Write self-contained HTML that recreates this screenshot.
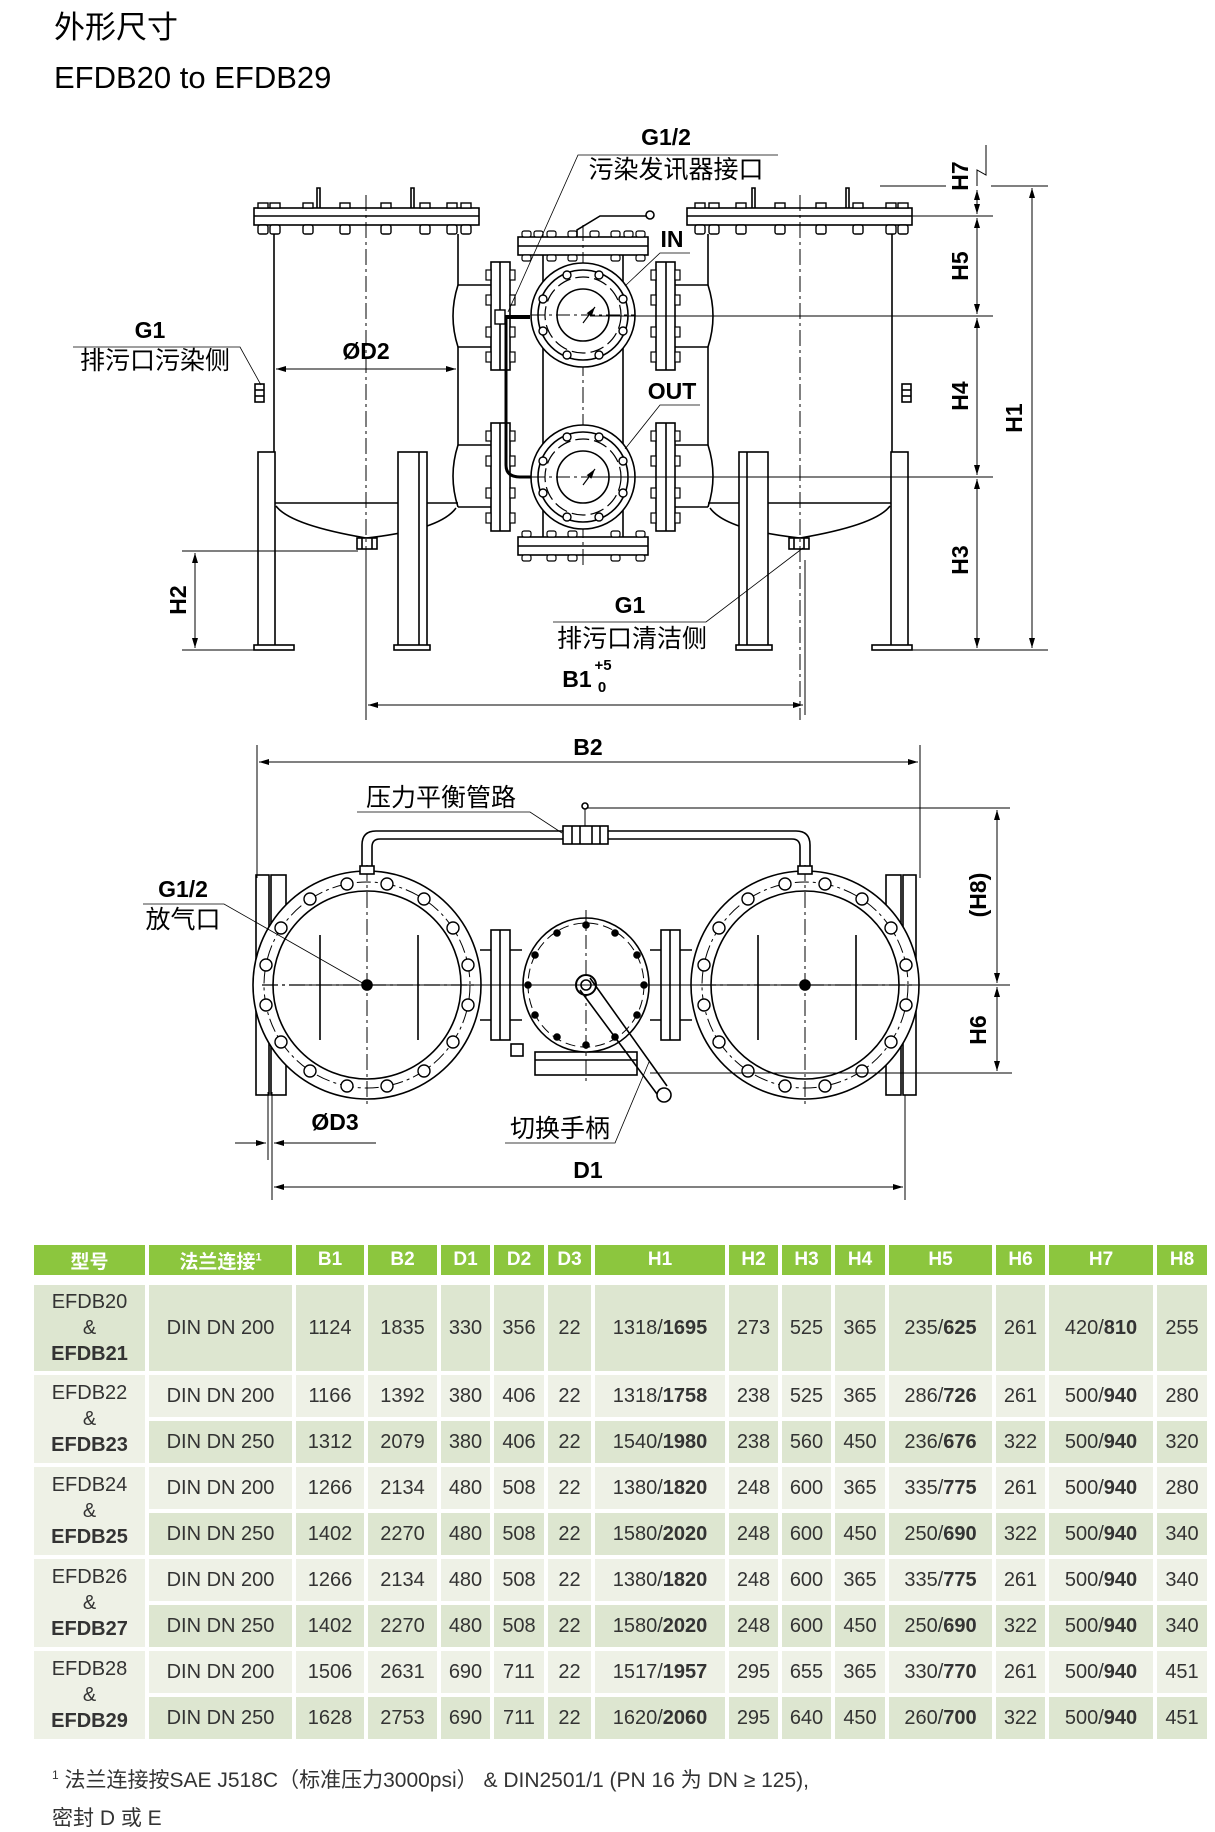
<!DOCTYPE html>
<html><head><meta charset="utf-8"><style>
html,body{margin:0;padding:0;background:#fff;}
body{width:1215px;height:1831px;position:relative;overflow:hidden;font-family:"Liberation Sans","Noto Sans CJK SC",sans-serif;}
svg{position:absolute;left:0;top:0;}
table{position:absolute;left:30px;top:1241px;border-collapse:separate;border-spacing:4px;table-layout:fixed;width:1181px;}
td{padding:0;text-align:center;font-size:20px;color:#333;height:42px;background:#eef1e6;white-space:nowrap;}
tr.h td{background:#8cc63e;color:#fff;font-weight:bold;height:30px;font-size:19px;}
tr.sp td{height:2px;background:none;}
tr.d td{background:#dde6d0;}
td.m{background:#eef1e6 !important;line-height:26px;}
tr.r1 td{height:86px;background:#dde6d0;}
b{font-weight:bold;}
.foot{position:absolute;left:52px;font-size:21px;color:#333;}
</style></head><body>
<svg width="1215" height="1240" viewBox="0 0 1215 1240" font-family="Liberation Sans, Noto Sans CJK SC, sans-serif">
<defs>
<marker id="ar" viewBox="0 0 10 6" refX="10" refY="3" markerWidth="10" markerHeight="6" orient="auto-start-reverse" markerUnits="userSpaceOnUse"><path d="M0,0 L10,3 L0,6z" fill="#000"/></marker>
<g id="tankTop" fill="none" stroke="#000" stroke-width="1.6">
 <rect x="254" y="208" width="225" height="17" fill="#fff"/>
 <line x1="254" y1="216" x2="479" y2="216"/>
 <g fill="#fff" stroke-width="1.4">
  <rect x="258" y="203" width="10" height="5"/><rect x="270" y="203" width="10" height="5"/><rect x="303" y="203" width="10" height="5"/><rect x="340" y="203" width="10" height="5"/><rect x="381" y="203" width="10" height="5"/><rect x="420" y="203" width="10" height="5"/><rect x="447" y="203" width="10" height="5"/><rect x="461" y="203" width="10" height="5"/>
  <rect x="258" y="225" width="10" height="9" rx="2"/><rect x="270" y="225" width="10" height="9" rx="2"/><rect x="303" y="225" width="10" height="9" rx="2"/><rect x="340" y="225" width="10" height="9" rx="2"/><rect x="381" y="225" width="10" height="9" rx="2"/><rect x="420" y="225" width="10" height="9" rx="2"/><rect x="447" y="225" width="10" height="9" rx="2"/><rect x="461" y="225" width="10" height="9" rx="2"/>
 </g>
 <path d="M317,208 V188 h3 V208 M411,208 V188 h3 V208"/>
 <line x1="274" y1="234" x2="274" y2="505"/>
 <line x1="458" y1="234" x2="458" y2="285"/>
 <path d="M458,285 Q448,316 458,347"/>
 <line x1="458" y1="347" x2="458" y2="445"/>
 <path d="M458,445 Q448,476 458,507"/>
 <line x1="274" y1="503" x2="458" y2="503"/>
 <path d="M276,506 Q290,525 366,538 Q440,530 456,508"/>
 <rect x="357" y="538" width="20" height="11" fill="#fff"/>
 <line x1="362" y1="538" x2="362" y2="549"/><line x1="372" y1="538" x2="372" y2="549"/>
 <rect x="258" y="452" width="17" height="194" fill="#fff"/>
 <rect x="254" y="645" width="40" height="5" fill="#fff"/>
 <rect x="398" y="452" width="29" height="194" fill="#fff"/>
 <line x1="419" y1="452" x2="419" y2="646"/>
 <rect x="394" y="645" width="36" height="5" fill="#fff"/>
 <line x1="366" y1="195" x2="366" y2="720" stroke-width="1" stroke-dasharray="16,4,3,4"/>
 <rect x="255" y="384" width="9" height="18" fill="#fff"/>
 <line x1="255" y1="390" x2="264" y2="390"/><line x1="255" y1="396" x2="264" y2="396"/>
 <line x1="458" y1="285" x2="491" y2="285"/><line x1="458" y1="347" x2="491" y2="347"/>
 <line x1="458" y1="445" x2="491" y2="445"/><line x1="458" y1="507" x2="491" y2="507"/>
 <rect x="491" y="262" width="19" height="108" fill="#fff"/><line x1="500" y1="262" x2="500" y2="370"/>
 <rect x="491" y="423" width="19" height="108" fill="#fff"/><line x1="500" y1="423" x2="500" y2="531"/>
 <g fill="#fff" stroke-width="1.2">
  <rect x="486" y="270" width="5" height="10"/><rect x="486" y="295" width="5" height="10"/><rect x="486" y="327" width="5" height="10"/><rect x="486" y="352" width="5" height="10"/>
  <rect x="510" y="270" width="5" height="10"/><rect x="510" y="295" width="5" height="10"/><rect x="510" y="327" width="5" height="10"/><rect x="510" y="352" width="5" height="10"/>
  <rect x="486" y="431" width="5" height="10"/><rect x="486" y="456" width="5" height="10"/><rect x="486" y="488" width="5" height="10"/><rect x="486" y="513" width="5" height="10"/>
  <rect x="510" y="431" width="5" height="10"/><rect x="510" y="456" width="5" height="10"/><rect x="510" y="488" width="5" height="10"/><rect x="510" y="513" width="5" height="10"/>
 </g>
</g>
<g id="port" fill="none" stroke="#000" stroke-width="1.6">
 <circle cx="0" cy="0" r="52" fill="#fff"/>
 <circle cx="0" cy="0" r="45"/>
 <circle cx="0" cy="0" r="38" stroke-dasharray="14,5" stroke-width="1.2"/>
 <circle cx="0" cy="0" r="26"/>
 <g fill="#fff" stroke-width="1.4"><circle cx="16" cy="-40" r="4"/><circle cx="-16" cy="-40" r="4"/><circle cx="40" cy="-16" r="4"/><circle cx="-40" cy="-16" r="4"/><circle cx="40" cy="16" r="4"/><circle cx="-40" cy="16" r="4"/><circle cx="16" cy="40" r="4"/><circle cx="-16" cy="40" r="4"/></g>
 <line x1="-52" y1="0" x2="52" y2="0" stroke-width="1" stroke-dasharray="14,4,3,4"/>
 <line x1="0" y1="8" x2="12" y2="-8" marker-end="url(#ar)" stroke-width="1.2"/>
</g>
<g id="bigC" fill="none" stroke="#000" stroke-width="1.6">
 <circle cx="0" cy="0" r="114" fill="#fff"/>
 <circle cx="0" cy="0" r="103" stroke-dasharray="14,4,3,4" stroke-width="1"/>
 <circle cx="0" cy="0" r="94"/>
 <g fill="#fff" stroke-width="1.4">
  <circle cx="101" cy="20" r="6"/><circle cx="86" cy="57" r="6"/><circle cx="57" cy="86" r="6"/><circle cx="20" cy="101" r="6"/>
  <circle cx="-101" cy="20" r="6"/><circle cx="-86" cy="57" r="6"/><circle cx="-57" cy="86" r="6"/><circle cx="-20" cy="101" r="6"/>
  <circle cx="101" cy="-20" r="6"/><circle cx="86" cy="-57" r="6"/><circle cx="57" cy="-86" r="6"/><circle cx="20" cy="-101" r="6"/>
  <circle cx="-101" cy="-20" r="6"/><circle cx="-86" cy="-57" r="6"/><circle cx="-57" cy="-86" r="6"/><circle cx="-20" cy="-101" r="6"/>
 </g>
 <line x1="-47" y1="-50" x2="-47" y2="55"/><line x1="51" y1="-50" x2="51" y2="55"/>
 <line x1="-105" y1="0" x2="110" y2="0" stroke-width="1.2" stroke-dasharray="16,4,3,4"/>
 <line x1="0" y1="-120" x2="0" y2="120" stroke-width="1" stroke-dasharray="16,4,3,4"/>
 <circle cx="0" cy="0" r="5" fill="#000"/>
</g>
</defs>

<text x="54" y="38" font-size="31">外形尺寸</text>
<text x="54" y="88" font-size="31">EFDB20 to EFDB29</text>

<use href="#tankTop"/>
<use href="#tankTop" transform="translate(1166,0) scale(-1,1)"/>
<g fill="none" stroke="#000" stroke-width="1.6">
 <line x1="543" y1="255" x2="543" y2="537"/><line x1="623" y1="255" x2="623" y2="537"/>
 <rect x="518" y="237" width="130" height="18" fill="#fff"/><line x1="518" y1="246" x2="648" y2="246"/>
 <rect x="518" y="537" width="130" height="18" fill="#fff"/><line x1="518" y1="546" x2="648" y2="546"/>
 <g fill="#fff" stroke-width="1.2">
  <rect x="522" y="231" width="9" height="6" rx="2"/><rect x="534" y="231" width="9" height="6" rx="2"/><rect x="547" y="231" width="9" height="6" rx="2"/><rect x="568" y="231" width="9" height="6" rx="2"/><rect x="590" y="231" width="9" height="6" rx="2"/><rect x="611" y="231" width="9" height="6" rx="2"/><rect x="624" y="231" width="9" height="6" rx="2"/><rect x="636" y="231" width="9" height="6" rx="2"/>
  <rect x="522" y="255" width="9" height="6" rx="2"/><rect x="547" y="255" width="9" height="6" rx="2"/><rect x="568" y="255" width="9" height="6" rx="2"/><rect x="611" y="255" width="9" height="6" rx="2"/><rect x="636" y="255" width="9" height="6" rx="2"/>
  <rect x="522" y="531" width="9" height="6" rx="2"/><rect x="547" y="531" width="9" height="6" rx="2"/><rect x="568" y="531" width="9" height="6" rx="2"/><rect x="611" y="531" width="9" height="6" rx="2"/><rect x="636" y="531" width="9" height="6" rx="2"/>
  <rect x="522" y="555" width="9" height="6" rx="2"/><rect x="547" y="555" width="9" height="6" rx="2"/><rect x="568" y="555" width="9" height="6" rx="2"/><rect x="611" y="555" width="9" height="6" rx="2"/><rect x="636" y="555" width="9" height="6" rx="2"/>
 </g>
 <path d="M577,237 V230 L600,216 H646" /><circle cx="650" cy="215" r="4" fill="#fff"/>
 <line x1="583" y1="225" x2="583" y2="565" stroke-width="1" stroke-dasharray="16,4,3,4"/>
</g>
<use href="#port" x="583" y="315"/>
<use href="#port" x="583" y="477"/>
<g fill="none" stroke="#000">
 <rect x="495" y="310" width="10" height="14" fill="#fff" stroke-width="1.4"/>
 <line x1="505" y1="317" x2="530" y2="317" stroke-width="4"/>
 <path d="M506,318 V465 Q506,477 520,477 H531" stroke-width="3"/>
 <line x1="880" y1="186" x2="946" y2="186" stroke-width="1"/><line x1="991" y1="186" x2="1048" y2="186" stroke-width="1"/>
 <line x1="912" y1="216" x2="993" y2="216" stroke-width="1"/>
 <line x1="590" y1="316" x2="993" y2="316" stroke-width="1"/>
 <line x1="590" y1="477" x2="993" y2="477" stroke-width="1"/>
 <line x1="910" y1="650" x2="1048" y2="650" stroke-width="1"/>
 <path d="M986,145 V175 L977,170 V186" stroke-width="1"/>
 <line x1="977" y1="190" x2="977" y2="214" stroke-width="1" marker-end="url(#ar)" marker-start="url(#ar)"/>
 <line x1="977" y1="218" x2="977" y2="314" stroke-width="1" marker-end="url(#ar)" marker-start="url(#ar)"/>
 <line x1="977" y1="318" x2="977" y2="475" stroke-width="1" marker-end="url(#ar)" marker-start="url(#ar)"/>
 <line x1="977" y1="479" x2="977" y2="648" stroke-width="1" marker-end="url(#ar)" marker-start="url(#ar)"/>
 <line x1="1032" y1="188" x2="1032" y2="648" stroke-width="1" marker-end="url(#ar)" marker-start="url(#ar)"/>
 <line x1="182" y1="551" x2="358" y2="551" stroke-width="1"/>
 <line x1="182" y1="650" x2="258" y2="650" stroke-width="1"/>
 <line x1="195" y1="553" x2="195" y2="648" stroke-width="1" marker-end="url(#ar)" marker-start="url(#ar)"/>
 <line x1="366" y1="560" x2="366" y2="715" stroke-width="1"/>
 <line x1="805" y1="560" x2="805" y2="715" stroke-width="1"/>
 <line x1="368" y1="705" x2="803" y2="705" stroke-width="1" marker-end="url(#ar)" marker-start="url(#ar)"/>
 <line x1="276" y1="369" x2="456" y2="369" stroke-width="1" marker-end="url(#ar)" marker-start="url(#ar)"/>
 <path d="M73,347 H240 L261,385" stroke-width="0.8"/>
 <path d="M778,155 H578 L508,312" stroke-width="0.8"/>
 <path d="M690,253 H660 L625,286" stroke-width="0.8"/>
 <path d="M700,405 H660 L625,449" stroke-width="0.8"/>
 <path d="M553,622 H706 L803,548" stroke-width="0.8"/>
</g>
<g font-size="23" font-weight="bold" text-anchor="middle">
 <text x="666" y="145">G1/2</text>
 <text x="672" y="247">IN</text>
 <text x="672" y="399">OUT</text>
 <text x="150" y="338">G1</text>
 <text x="366" y="359">ØD2</text>
 <text x="630" y="613">G1</text>
 <text x="577" y="687">B1</text>
 <text x="603" y="670" font-size="15">+5</text>
 <text x="602" y="692" font-size="15">0</text>
 <text transform="translate(968,176) rotate(-90)">H7</text>
 <text transform="translate(968,266) rotate(-90)">H5</text>
 <text transform="translate(968,396) rotate(-90)">H4</text>
 <text transform="translate(968,560) rotate(-90)">H3</text>
 <text transform="translate(1022,418) rotate(-90)">H1</text>
 <text transform="translate(186,600) rotate(-90)">H2</text>
</g>
<g font-size="25" text-anchor="middle">
 <text x="676" y="178">污染发讯器接口</text>
 <text x="155" y="369">排污口污染侧</text>
 <text x="632" y="647">排污口清洁侧</text>
</g>

<g fill="none" stroke="#000" stroke-width="1.6">
 <path d="M362,873 V845 Q362,831 376,831 H796 Q810,831 810,845 V873"/>
 <path d="M372,873 V847 Q372,839 380,839 H792 Q800,839 800,847 V873"/>
 <rect x="563" y="826" width="45" height="18" fill="#fff"/>
 <line x1="572" y1="826" x2="572" y2="844"/><line x1="580" y1="826" x2="580" y2="844"/><line x1="592" y1="826" x2="592" y2="844"/><line x1="600" y1="826" x2="600" y2="844"/>
 <path d="M585,826 V808 H1010" stroke-width="1"/><circle cx="585" cy="806" r="3" fill="#fff"/>
 <rect x="256" y="875" width="13" height="220" fill="#fff"/><rect x="271" y="875" width="15" height="220" fill="#fff"/>
 <rect x="886" y="875" width="15" height="220" fill="#fff"/><rect x="903" y="875" width="13" height="220" fill="#fff"/>
</g>
<use href="#bigC" x="367" y="985"/>
<use href="#bigC" x="805" y="985"/>
<g fill="none" stroke="#000" stroke-width="1.6">
 <rect x="360" y="866" width="14" height="8" fill="#fff"/><rect x="798" y="866" width="14" height="8" fill="#fff"/>
 <line x1="480" y1="950" x2="522" y2="950"/><line x1="480" y1="1020" x2="522" y2="1020"/>
 <line x1="650" y1="950" x2="692" y2="950"/><line x1="650" y1="1020" x2="692" y2="1020"/>
 <rect x="491" y="930" width="19" height="110" fill="#fff"/><line x1="500" y1="930" x2="500" y2="1040"/>
 <rect x="661" y="930" width="19" height="110" fill="#fff"/><line x1="670" y1="930" x2="670" y2="1040"/>
 <rect x="535" y="1052" width="102" height="23" fill="#fff"/><line x1="535" y1="1060" x2="637" y2="1060"/>
 <ellipse cx="586" cy="985" rx="63" ry="67" fill="#fff"/>
 <ellipse cx="586" cy="985" rx="58" ry="62" stroke-width="1" stroke-dasharray="10,5"/>
 <g fill="#000"><circle cx="644" cy="985" r="3"/><circle cx="528" cy="985" r="3"/><circle cx="586" cy="925" r="3"/><circle cx="586" cy="1045" r="3"/><circle cx="637" cy="955" r="3"/><circle cx="535" cy="955" r="3"/><circle cx="637" cy="1015" r="3"/><circle cx="535" cy="1015" r="3"/><circle cx="615" cy="933" r="3"/><circle cx="557" cy="933" r="3"/><circle cx="615" cy="1037" r="3"/><circle cx="557" cy="1037" r="3"/></g>
 <line x1="586" y1="910" x2="586" y2="1085" stroke-width="1" stroke-dasharray="14,4,3,4"/>
 <circle cx="586" cy="985" r="10" fill="#fff" stroke-width="2"/><circle cx="586" cy="985" r="5"/>
 <path d="M590,978 L667,1086 M580,990 L657,1094" stroke-width="1.6"/>
 <circle cx="664" cy="1095" r="7" fill="#fff"/>
 <rect x="511" y="1044" width="12" height="12" fill="#fff"/>
 <line x1="300" y1="985" x2="1010" y2="985" stroke-width="1"/>
 <line x1="257" y1="745" x2="257" y2="878" stroke-width="1"/><line x1="920" y1="745" x2="920" y2="878" stroke-width="1"/>
 <line x1="259" y1="762" x2="918" y2="762" stroke-width="1" marker-end="url(#ar)" marker-start="url(#ar)"/>
 <line x1="650" y1="1073" x2="1012" y2="1073" stroke-width="1"/>
 <line x1="997" y1="810" x2="997" y2="983" stroke-width="1" marker-end="url(#ar)" marker-start="url(#ar)"/>
 <line x1="997" y1="987" x2="997" y2="1071" stroke-width="1" marker-end="url(#ar)" marker-start="url(#ar)"/>
 <line x1="268" y1="1092" x2="268" y2="1160" stroke-width="1"/><line x1="272" y1="1092" x2="272" y2="1200" stroke-width="1"/>
 <line x1="905" y1="1095" x2="905" y2="1200" stroke-width="1"/>
 <line x1="235" y1="1143" x2="266" y2="1143" stroke-width="1" marker-end="url(#ar)"/>
 <line x1="376" y1="1143" x2="274" y2="1143" stroke-width="1" marker-end="url(#ar)"/>
 <line x1="274" y1="1187" x2="903" y2="1187" stroke-width="1" marker-end="url(#ar)" marker-start="url(#ar)"/>
 <path d="M357,812 H530 L562,833" stroke-width="0.8"/>
 <path d="M143,904 H224 L366,985" stroke-width="0.8"/>
 <path d="M505,1143 H615 L649,1062" stroke-width="0.8"/>
</g>
<g font-size="23" font-weight="bold" text-anchor="middle">
 <text x="588" y="755">B2</text>
 <text x="183" y="897">G1/2</text>
 <text x="335" y="1130">ØD3</text>
 <text x="588" y="1178">D1</text>
 <text transform="translate(986,895) rotate(-90)">(H8)</text>
 <text transform="translate(986,1030) rotate(-90)">H6</text>
</g>
<g font-size="25" text-anchor="middle">
 <text x="441" y="806">压力平衡管路</text>
 <text x="183" y="928">放气口</text>
 <text x="560" y="1137">切换手柄</text>
</g>
</svg>

<table>
<colgroup><col style="width:111px"><col style="width:143px"><col style="width:68px"><col style="width:69px"><col style="width:49px"><col style="width:50px"><col style="width:43px"><col style="width:130px"><col style="width:49px"><col style="width:49px"><col style="width:50px"><col style="width:103px"><col style="width:49px"><col style="width:104px"><col style="width:50px"></colgroup>
<tr class="h"><td>型号</td><td>法兰连接<sup style="font-size:11px">1</sup></td><td>B1</td><td>B2</td><td>D1</td><td>D2</td><td>D3</td><td>H1</td><td>H2</td><td>H3</td><td>H4</td><td>H5</td><td>H6</td><td>H7</td><td>H8</td></tr>
<tr class="sp"><td colspan="15"></td></tr>
<tr class="r1"><td style="line-height:26px">EFDB20<br>&amp;<br><b>EFDB21</b></td><td>DIN DN 200</td><td>1124</td><td>1835</td><td>330</td><td>356</td><td>22</td><td>1318/<b>1695</b></td><td>273</td><td>525</td><td>365</td><td>235/<b>625</b></td><td>261</td><td>420/<b>810</b></td><td>255</td></tr>
<tr><td class="m" rowspan="2">EFDB22<br>&amp;<br><b>EFDB23</b></td><td>DIN DN 200</td><td>1166</td><td>1392</td><td>380</td><td>406</td><td>22</td><td>1318/<b>1758</b></td><td>238</td><td>525</td><td>365</td><td>286/<b>726</b></td><td>261</td><td>500/<b>940</b></td><td>280</td></tr>
<tr class="d"><td>DIN DN 250</td><td>1312</td><td>2079</td><td>380</td><td>406</td><td>22</td><td>1540/<b>1980</b></td><td>238</td><td>560</td><td>450</td><td>236/<b>676</b></td><td>322</td><td>500/<b>940</b></td><td>320</td></tr>
<tr><td class="m" rowspan="2">EFDB24<br>&amp;<br><b>EFDB25</b></td><td>DIN DN 200</td><td>1266</td><td>2134</td><td>480</td><td>508</td><td>22</td><td>1380/<b>1820</b></td><td>248</td><td>600</td><td>365</td><td>335/<b>775</b></td><td>261</td><td>500/<b>940</b></td><td>280</td></tr>
<tr class="d"><td>DIN DN 250</td><td>1402</td><td>2270</td><td>480</td><td>508</td><td>22</td><td>1580/<b>2020</b></td><td>248</td><td>600</td><td>450</td><td>250/<b>690</b></td><td>322</td><td>500/<b>940</b></td><td>340</td></tr>
<tr><td class="m" rowspan="2">EFDB26<br>&amp;<br><b>EFDB27</b></td><td>DIN DN 200</td><td>1266</td><td>2134</td><td>480</td><td>508</td><td>22</td><td>1380/<b>1820</b></td><td>248</td><td>600</td><td>365</td><td>335/<b>775</b></td><td>261</td><td>500/<b>940</b></td><td>340</td></tr>
<tr class="d"><td>DIN DN 250</td><td>1402</td><td>2270</td><td>480</td><td>508</td><td>22</td><td>1580/<b>2020</b></td><td>248</td><td>600</td><td>450</td><td>250/<b>690</b></td><td>322</td><td>500/<b>940</b></td><td>340</td></tr>
<tr><td class="m" rowspan="2">EFDB28<br>&amp;<br><b>EFDB29</b></td><td>DIN DN 200</td><td>1506</td><td>2631</td><td>690</td><td>711</td><td>22</td><td>1517/<b>1957</b></td><td>295</td><td>655</td><td>365</td><td>330/<b>770</b></td><td>261</td><td>500/<b>940</b></td><td>451</td></tr>
<tr class="d"><td>DIN DN 250</td><td>1628</td><td>2753</td><td>690</td><td>711</td><td>22</td><td>1620/<b>2060</b></td><td>295</td><td>640</td><td>450</td><td>260/<b>700</b></td><td>322</td><td>500/<b>940</b></td><td>451</td></tr>
</table>
<div class="foot" style="top:1764px"><sup style="font-size:12px">1</sup> 法兰连接按SAE J518C（标准压力3000psi） &amp; DIN2501/1 (PN 16 为 DN ≥ 125),</div>
<div class="foot" style="top:1802px">密封 D 或 E</div>
</body></html>
